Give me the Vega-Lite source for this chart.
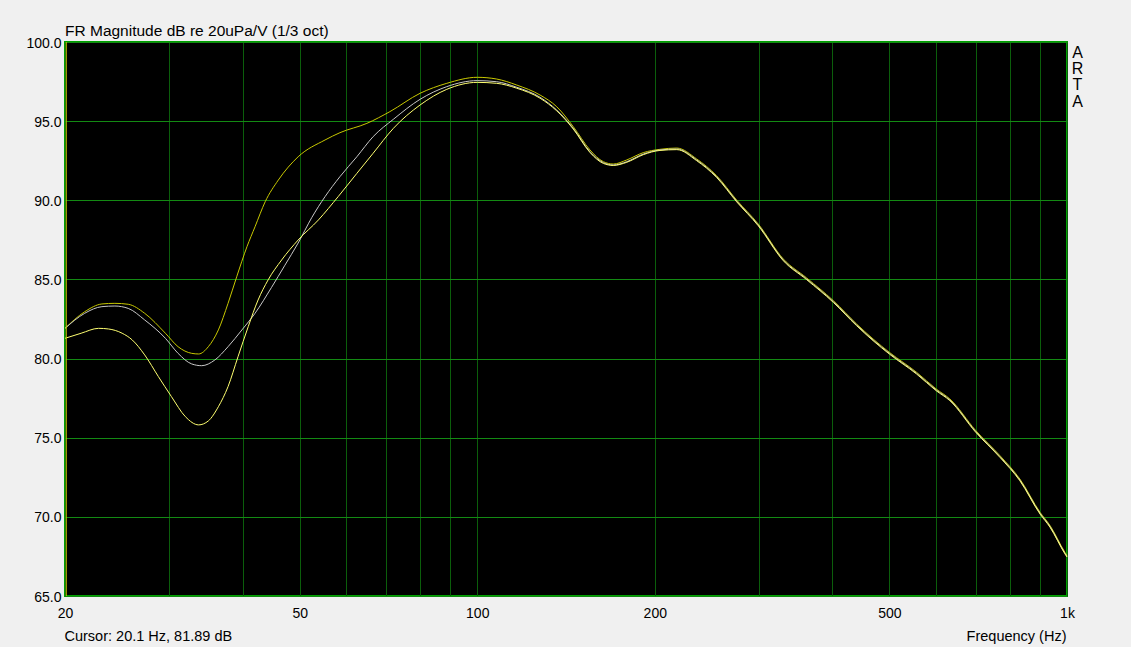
{
  "$schema": "https://vega.github.io/schema/vega-lite/v6.json",
  "width": 1002,
  "height": 554,
  "autosize": {"type": "none"},
  "padding": {"left": 65, "top": 42, "right": 64, "bottom": 51},
  "background": "#F0F0F0",
  "config": {
    "font": "Liberation Sans",
    "view": {"fill": "#000000", "stroke": "#00A000", "strokeWidth": 2}
  },
  "title": {
    "text": "FR Magnitude dB re 20uPa/V (1/3 oct)",
    "anchor": "start",
    "frame": "group",
    "fontSize": 15.5,
    "fontWeight": "normal",
    "color": "#000000",
    "font": "Liberation Sans",
    "offset": -3
  },
  "datasets": {
    "fr": [
      {"curve": "A", "freq": 20, "db": 81.91}, {"curve": "A", "freq": 21.6, "db": 82.96}, {"curve": "A", "freq": 23.1, "db": 83.45}, {"curve": "A", "freq": 24.3, "db": 83.49}, {"curve": "A", "freq": 25.6, "db": 83.43}, {"curve": "A", "freq": 27.3, "db": 82.86}, {"curve": "A", "freq": 29.6, "db": 81.6}, {"curve": "A", "freq": 31.1, "db": 80.75}, {"curve": "A", "freq": 32.8, "db": 80.33}, {"curve": "A", "freq": 33.7, "db": 80.29}, {"curve": "A", "freq": 35.0, "db": 80.75}, {"curve": "A", "freq": 36.4, "db": 81.81}, {"curve": "A", "freq": 37.8, "db": 83.49}, {"curve": "A", "freq": 39.1, "db": 85.17}, {"curve": "A", "freq": 40.7, "db": 87.07}, {"curve": "A", "freq": 42.0, "db": 88.33}, {"curve": "A", "freq": 43.7, "db": 89.91}, {"curve": "A", "freq": 46.0, "db": 91.28}, {"curve": "A", "freq": 49.7, "db": 92.75}, {"curve": "A", "freq": 55.2, "db": 93.81}, {"curve": "A", "freq": 58.5, "db": 94.27}, {"curve": "A", "freq": 65, "db": 94.86}, {"curve": "A", "freq": 71.1, "db": 95.6}, {"curve": "A", "freq": 80, "db": 96.76}, {"curve": "A", "freq": 88.8, "db": 97.39}, {"curve": "A", "freq": 100, "db": 97.77}, {"curve": "A", "freq": 107.9, "db": 97.66}, {"curve": "A", "freq": 116.7, "db": 97.28}, {"curve": "A", "freq": 127.8, "db": 96.65}, {"curve": "A", "freq": 136.4, "db": 95.91}, {"curve": "A", "freq": 145.5, "db": 94.65}, {"curve": "A", "freq": 155.3, "db": 93.18}, {"curve": "A", "freq": 163.6, "db": 92.44}, {"curve": "A", "freq": 170.1, "db": 92.29}, {"curve": "A", "freq": 179.3, "db": 92.55}, {"curve": "A", "freq": 191.2, "db": 93.01}, {"curve": "A", "freq": 204.1, "db": 93.22},
      {"curve": "A", "freq": 218, "db": 93.3}, {"curve": "A", "freq": 235.6, "db": 92.61}, {"curve": "A", "freq": 254.7, "db": 91.55}, {"curve": "A", "freq": 275.4, "db": 90.01}, {"curve": "A", "freq": 299.6, "db": 88.5}, {"curve": "A", "freq": 330.4, "db": 86.29}, {"curve": "A", "freq": 362, "db": 85.09}, {"curve": "A", "freq": 401.6, "db": 83.66}, {"curve": "A", "freq": 440, "db": 82.18}, {"curve": "A", "freq": 469, "db": 81.24}, {"curve": "A", "freq": 500, "db": 80.39}, {"curve": "A", "freq": 556, "db": 79.13}, {"curve": "A", "freq": 600, "db": 78.08}, {"curve": "A", "freq": 633, "db": 77.45}, {"curve": "A", "freq": 700, "db": 75.46}, {"curve": "A", "freq": 770, "db": 73.86}, {"curve": "A", "freq": 832, "db": 72.39}, {"curve": "A", "freq": 900, "db": 70.29}, {"curve": "A", "freq": 936, "db": 69.45}, {"curve": "A", "freq": 992, "db": 67.76}, {"curve": "A", "freq": 1000, "db": 67.56},

      {"curve": "B", "freq": 20, "db": 81.91}, {"curve": "B", "freq": 21.6, "db": 82.86}, {"curve": "B", "freq": 23.1, "db": 83.28}, {"curve": "B", "freq": 24.3, "db": 83.32}, {"curve": "B", "freq": 25.6, "db": 83.17}, {"curve": "B", "freq": 27.3, "db": 82.44}, {"curve": "B", "freq": 29.6, "db": 81.28}, {"curve": "B", "freq": 31.1, "db": 80.33}, {"curve": "B", "freq": 32.8, "db": 79.66}, {"curve": "B", "freq": 34.1, "db": 79.55}, {"curve": "B", "freq": 35.9, "db": 79.91}, {"curve": "B", "freq": 37.8, "db": 80.75}, {"curve": "B", "freq": 39.9, "db": 81.81}, {"curve": "B", "freq": 42.0, "db": 82.86}, {"curve": "B", "freq": 44.8, "db": 84.5}, {"curve": "B", "freq": 47.2, "db": 85.9}, {"curve": "B", "freq": 49.7, "db": 87.3}, {"curve": "B", "freq": 52.4, "db": 88.9}, {"curve": "B", "freq": 55.2, "db": 90.23}, {"curve": "B", "freq": 58.5, "db": 91.49}, {"curve": "B", "freq": 62.5, "db": 92.75}, {"curve": "B", "freq": 66.6, "db": 94.02}, {"curve": "B", "freq": 72.1, "db": 95.12}, {"curve": "B", "freq": 80, "db": 96.38}, {"curve": "B", "freq": 88.8, "db": 97.18}, {"curve": "B", "freq": 100, "db": 97.56}, {"curve": "B", "freq": 107.9, "db": 97.49}, {"curve": "B", "freq": 116.7, "db": 97.14}, {"curve": "B", "freq": 127.8, "db": 96.51}, {"curve": "B", "freq": 136.4, "db": 95.7}, {"curve": "B", "freq": 145.5, "db": 94.55}, {"curve": "B", "freq": 155.3, "db": 93.07}, {"curve": "B", "freq": 163.6, "db": 92.38}, {"curve": "B", "freq": 170.1, "db": 92.23}, {"curve": "B", "freq": 179.3, "db": 92.44}, {"curve": "B", "freq": 191.2, "db": 92.92}, {"curve": "B", "freq": 204.1, "db": 93.18},
      {"curve": "B", "freq": 218, "db": 93.24}, {"curve": "B", "freq": 235.6, "db": 92.55}, {"curve": "B", "freq": 254.7, "db": 91.49}, {"curve": "B", "freq": 275.4, "db": 89.95}, {"curve": "B", "freq": 299.6, "db": 88.44}, {"curve": "B", "freq": 330.4, "db": 86.23}, {"curve": "B", "freq": 362, "db": 85.03}, {"curve": "B", "freq": 401.6, "db": 83.6}, {"curve": "B", "freq": 440, "db": 82.12}, {"curve": "B", "freq": 469, "db": 81.18}, {"curve": "B", "freq": 500, "db": 80.33}, {"curve": "B", "freq": 556, "db": 79.07}, {"curve": "B", "freq": 600, "db": 78.02}, {"curve": "B", "freq": 633, "db": 77.39}, {"curve": "B", "freq": 700, "db": 75.4}, {"curve": "B", "freq": 770, "db": 73.8}, {"curve": "B", "freq": 832, "db": 72.33}, {"curve": "B", "freq": 900, "db": 70.23}, {"curve": "B", "freq": 936, "db": 69.39}, {"curve": "B", "freq": 992, "db": 67.7}, {"curve": "B", "freq": 1000, "db": 67.5},

      {"curve": "C", "freq": 20, "db": 81.28}, {"curve": "C", "freq": 21.3, "db": 81.6}, {"curve": "C", "freq": 22.8, "db": 81.91}, {"curve": "C", "freq": 23.7, "db": 81.87}, {"curve": "C", "freq": 25.0, "db": 81.6}, {"curve": "C", "freq": 26.0, "db": 81.18}, {"curve": "C", "freq": 27.3, "db": 80.23}, {"curve": "C", "freq": 28.8, "db": 78.86}, {"curve": "C", "freq": 30.3, "db": 77.6}, {"curve": "C", "freq": 32.0, "db": 76.33}, {"curve": "C", "freq": 33.7, "db": 75.81}, {"curve": "C", "freq": 35.0, "db": 76.06}, {"curve": "C", "freq": 36.4, "db": 76.96}, {"curve": "C", "freq": 37.8, "db": 78.23}, {"curve": "C", "freq": 39.3, "db": 80.12}, {"curve": "C", "freq": 40.9, "db": 82.02}, {"curve": "C", "freq": 42.5, "db": 83.7}, {"curve": "C", "freq": 44.2, "db": 84.97}, {"curve": "C", "freq": 46.6, "db": 86.23}, {"curve": "C", "freq": 49.7, "db": 87.49}, {"curve": "C", "freq": 53.8, "db": 88.76}, {"curve": "C", "freq": 58.1, "db": 90.23}, {"curve": "C", "freq": 62.5, "db": 91.7}, {"curve": "C", "freq": 66.6, "db": 92.97}, {"curve": "C", "freq": 72.1, "db": 94.55}, {"curve": "C", "freq": 80, "db": 96.02}, {"curve": "C", "freq": 88.8, "db": 97.01}, {"curve": "C", "freq": 100, "db": 97.45}, {"curve": "C", "freq": 107.9, "db": 97.39}, {"curve": "C", "freq": 116.7, "db": 97.08}, {"curve": "C", "freq": 127.8, "db": 96.45}, {"curve": "C", "freq": 136.4, "db": 95.65}, {"curve": "C", "freq": 145.5, "db": 94.5}, {"curve": "C", "freq": 155.3, "db": 93.02}, {"curve": "C", "freq": 163.6, "db": 92.33}, {"curve": "C", "freq": 170.1, "db": 92.2}, {"curve": "C", "freq": 179.3, "db": 92.4}, {"curve": "C", "freq": 191.2, "db": 92.88}, {"curve": "C", "freq": 204.1, "db": 93.15},
      {"curve": "C", "freq": 218, "db": 93.2}, {"curve": "C", "freq": 235.6, "db": 92.5}, {"curve": "C", "freq": 254.7, "db": 91.44}, {"curve": "C", "freq": 275.4, "db": 89.9}, {"curve": "C", "freq": 299.6, "db": 88.39}, {"curve": "C", "freq": 330.4, "db": 86.18}, {"curve": "C", "freq": 362, "db": 84.98}, {"curve": "C", "freq": 401.6, "db": 83.55}, {"curve": "C", "freq": 440, "db": 82.07}, {"curve": "C", "freq": 469, "db": 81.13}, {"curve": "C", "freq": 500, "db": 80.28}, {"curve": "C", "freq": 556, "db": 79.02}, {"curve": "C", "freq": 600, "db": 77.97}, {"curve": "C", "freq": 633, "db": 77.34}, {"curve": "C", "freq": 700, "db": 75.35}, {"curve": "C", "freq": 770, "db": 73.75}, {"curve": "C", "freq": 832, "db": 72.28}, {"curve": "C", "freq": 900, "db": 70.18}, {"curve": "C", "freq": 936, "db": 69.34}, {"curve": "C", "freq": 992, "db": 67.66}, {"curve": "C", "freq": 1000, "db": 67.46}
    ],
    "cursor": [{"freq": 20.1, "lo": 65, "hi": 100}]
  },
  "layer": [
    {
      "data": {"name": "fr"},
      "mark": {"type": "line", "interpolate": "monotone", "strokeWidth": 1},
      "encoding": {
        "x": {
          "field": "freq", "type": "quantitative",
          "scale": {"type": "log", "domain": [20, 1000], "nice": false},
          "axis": {
            "orient": "bottom",
            "values": [20, 30, 40, 50, 60, 70, 80, 90, 100, 200, 300, 400, 500, 600, 700, 800, 900, 1000],
            "labelExpr": "datum.value == 1000 ? '1k' : (indexof([20, 50, 100, 200, 500], datum.value) >= 0 ? toString(datum.value) : '')",
            "labelFlush": false, "labelOverlap": false, "labelBound": false,
            "labelFontSize": 14, "labelColor": "#000000", "labelFont": "Liberation Sans",
            "labelBaseline": "top", "labelPadding": 10,
            "ticks": false, "tickSize": 0, "domain": false,
            "grid": true, "gridColor": "#0B5E0B", "gridWidth": 1, "gridOpacity": 1,
            "title": "Frequency (Hz)",
            "titleFont": "Liberation Sans", "titleFontSize": 14.5, "titleFontWeight": "normal", "titleColor": "#000000",
            "titleAnchor": null, "titleAlign": "right", "titleBaseline": "alphabetic",
            "titleX": 1001, "titleY": 44
          }
        },
        "y": {
          "field": "db", "type": "quantitative",
          "scale": {"domain": [65, 100], "nice": false, "zero": false},
          "axis": {
            "orient": "left",
            "values": [65, 70, 75, 80, 85, 90, 95, 100],
            "format": ".1f",
            "labelFontSize": 14, "labelColor": "#000000", "labelFont": "Liberation Sans",
            "labelPadding": 4, "labelBaseline": "middle", "labelOffset": 1,
            "labelFlush": false, "labelOverlap": false, "labelBound": false,
            "ticks": false, "tickSize": 0, "domain": false,
            "grid": true, "gridColor": "#138A13", "gridWidth": 1, "gridOpacity": 1,
            "title": null
          }
        },
        "color": {
          "field": "curve", "type": "nominal",
          "scale": {"domain": ["A", "B", "C"], "range": ["#C8C800", "#C8C8C8", "#FFFF70"]},
          "legend": null
        }
      }
    },
    {
      "data": {"name": "cursor"},
      "mark": {"type": "rule", "color": "#C8C800", "strokeWidth": 1},
      "encoding": {
        "x": {
          "field": "freq", "type": "quantitative",
          "axis": {
            "orient": "bottom", "labels": false, "ticks": false, "domain": false, "grid": false,
            "title": "Cursor: 20.1 Hz, 81.89 dB",
            "titleFont": "Liberation Sans", "titleFontSize": 14.5, "titleFontWeight": "normal", "titleColor": "#000000",
            "titleAnchor": null, "titleAlign": "left", "titleBaseline": "alphabetic",
            "titleX": -1, "titleY": 44
          }
        },
        "y": {
          "field": "lo", "type": "quantitative",
          "axis": {
            "orient": "right", "labels": false, "ticks": false, "domain": false, "grid": false,
            "title": ["A", "R", "T", "A"],
            "titleFont": "Liberation Sans", "titleFontSize": 16, "titleFontWeight": "normal", "titleColor": "#000000",
            "titleAngle": 0, "titleAnchor": null, "titleAlign": "center", "titleBaseline": "alphabetic",
            "titleLineHeight": 16.2, "titleX": 10, "titleY": 15.5
          }
        },
        "y2": {"field": "hi"}
      }
    }
  ],
  "resolve": {"axis": {"x": "independent", "y": "independent"}}
}
